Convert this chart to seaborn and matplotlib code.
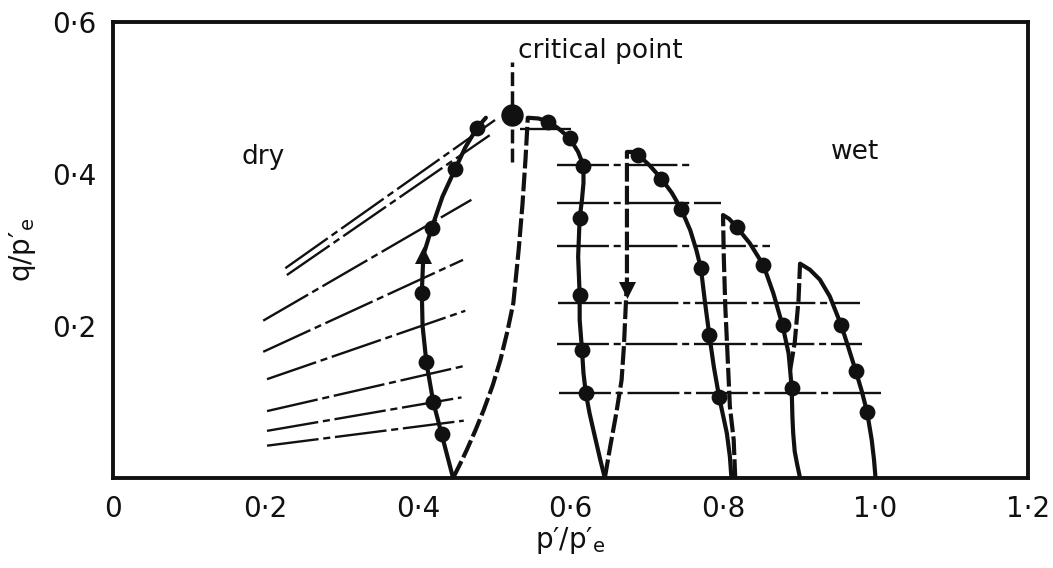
import matplotlib
matplotlib.use("Agg")
import matplotlib.pyplot as plt
from matplotlib.ticker import FixedLocator
import numpy as np
import pandas as pd
import seaborn as sns

sns.set_theme(style="white")
plt.rcParams['font.family'] = ['DejaVu Sans']
plt.rcParams['mathtext.fontset'] = 'dejavusans'
plt.rcParams['mathtext.default'] = 'regular'

# ---------------- data (p'/p'e , q/p'e) ----------------
# drained path on the dry side (solid, upward)
dry_x = [0.446, 0.431, 0.420, 0.411, 0.406, 0.405, 0.407, 0.418, 0.432, 0.4485, 0.462, 0.477, 0.489]
dry_y = [0.000, 0.0575, 0.100, 0.152, 0.200, 0.244, 0.293, 0.329, 0.370, 0.406, 0.435, 0.460, 0.474]
dry_dots_x = [0.431, 0.420, 0.411, 0.405, 0.418, 0.4485, 0.477]
dry_dots_y = [0.0575, 0.100, 0.152, 0.244, 0.329, 0.406, 0.460]

# dashed loading paths (wet side)
dashA_x = [0.446, 0.455, 0.464, 0.475, 0.486, 0.498, 0.508, 0.517, 0.525, 0.532, 0.537, 0.541, 0.544]
dashA_y = [0.000, 0.018, 0.037, 0.062, 0.089, 0.122, 0.155, 0.192, 0.230, 0.300, 0.360, 0.420, 0.474]
dashC_x = [0.645, 0.652, 0.660, 0.667, 0.670, 0.672, 0.674, 0.674, 0.674]
dashC_y = [0.000, 0.041, 0.085, 0.129, 0.173, 0.217, 0.260, 0.350, 0.429]
dashE_x = [0.816, 0.814, 0.809, 0.806, 0.803, 0.801, 0.800]
dashE_y = [0.000, 0.050, 0.094, 0.160, 0.225, 0.291, 0.346]
dashG_x = [0.888, 0.894, 0.899, 0.901]
dashG_y = [0.142, 0.178, 0.234, 0.282]

# solid unloading paths (wet side)
solB_x = [0.544, 0.558, 0.571, 0.584, 0.599, 0.610, 0.617, 0.617, 0.615, 0.612, 0.610, 0.612,
          0.612, 0.615, 0.617, 0.620, 0.625, 0.630, 0.639, 0.645]
solB_y = [0.474, 0.473, 0.469, 0.460, 0.447, 0.429, 0.411, 0.388, 0.366, 0.342, 0.291, 0.241,
          0.208, 0.169, 0.138, 0.112, 0.085, 0.063, 0.024, 0.000]
solB_dots_x = [0.571, 0.599, 0.617, 0.612, 0.612, 0.615, 0.620]
solB_dots_y = [0.469, 0.447, 0.411, 0.342, 0.241, 0.169, 0.112]

solD_x = [0.674, 0.681, 0.689, 0.704, 0.719, 0.733, 0.745, 0.757, 0.765, 0.771, 0.776, 0.782,
          0.788, 0.795, 0.805, 0.809, 0.811]
solD_y = [0.429, 0.429, 0.425, 0.411, 0.394, 0.375, 0.354, 0.326, 0.300, 0.276, 0.234, 0.188,
          0.146, 0.106, 0.059, 0.028, 0.000]
solD_dots_x = [0.689, 0.719, 0.745, 0.771, 0.782, 0.795]
solD_dots_y = [0.425, 0.394, 0.354, 0.276, 0.188, 0.106]

solF_x = [0.800, 0.808, 0.818, 0.835, 0.853, 0.866, 0.878, 0.886, 0.888, 0.890, 0.891, 0.892,
          0.894, 0.897, 0.901]
solF_y = [0.346, 0.341, 0.330, 0.309, 0.280, 0.243, 0.201, 0.164, 0.142, 0.119, 0.080, 0.059,
          0.035, 0.019, 0.000]
solF_dots_x = [0.818, 0.853, 0.878, 0.890]
solF_dots_y = [0.330, 0.280, 0.201, 0.119]

solH_x = [0.901, 0.914, 0.927, 0.940, 0.955, 0.964, 0.974, 0.982, 0.989, 0.995, 0.998, 1.000]
solH_y = [0.282, 0.274, 0.261, 0.239, 0.201, 0.173, 0.141, 0.114, 0.0864, 0.050, 0.024, 0.000]
solH_dots_x = [0.955, 0.974, 0.989]
solH_dots_y = [0.201, 0.141, 0.0864]

# critical point
crit_x = [0.523]
crit_y = [0.478]
crit_line_y = [0.416, 0.547]

# arrows on paths
arrow_up = (0.407, 0.293)
arrow_down = (0.674, 0.247)

# inclined stress paths, dry side: (x0, y0, x1, y1)
dry_paths_x0 = [0.226, 0.228, 0.197, 0.197, 0.202, 0.202, 0.202, 0.202]
dry_paths_y0 = [0.276, 0.267, 0.207, 0.166, 0.130, 0.088, 0.062, 0.0425]
dry_paths_x1 = [0.501, 0.494, 0.470, 0.459, 0.462, 0.459, 0.457, 0.460]
dry_paths_y1 = [0.471, 0.451, 0.366, 0.287, 0.220, 0.147, 0.106, 0.0754]

# horizontal stress paths, wet side
wet_paths_y = [0.459, 0.412, 0.362, 0.305, 0.230, 0.176, 0.112]
wet_paths_x0 = [0.534, 0.582, 0.582, 0.582, 0.584, 0.582, 0.585]
wet_paths_x1 = [0.600, 0.761, 0.798, 0.862, 0.980, 0.982, 1.007]

xtick_vals = [0.0, 0.2, 0.4, 0.6, 0.8, 1.0, 1.2]
xtick_labels = ["0", "0·2", "0·4", "0·6", "0·8", "1·0", "1·2"]
ytick_vals = [0.2, 0.4, 0.6]
ytick_labels = ["0·2", "0·4", "0·6"]

# ---------------- figure ----------------
fig = plt.figure(figsize=(10.53, 5.68), dpi=100)
ax = fig.add_axes([0.1073, 0.1585, 0.869, 0.8028])

BLACK = "#111111"
thin_style = (0, (22, 2, 3, 2))
dash_style = (0, (4.5, 1.0))


def line(x, y, lw, ls):
    sns.lineplot(x=x, y=y, sort=False, estimator=None, ax=ax, color=BLACK,
                 lw=lw, linestyle=ls, legend=False, solid_joinstyle="round")


# thin stress paths
for x0, y0, x1, y1 in zip(dry_paths_x0, dry_paths_y0, dry_paths_x1, dry_paths_y1):
    line([x0, x1], [y0, y1], 1.7, thin_style)
for yv, x0, x1 in zip(wet_paths_y, wet_paths_x0, wet_paths_x1):
    line([x0, x1], [yv, yv], 1.7, thin_style)

# thick paths
line(dry_x, dry_y, 3.0, "-")
for xs, ys in [(dashA_x, dashA_y), (dashC_x, dashC_y), (dashE_x, dashE_y), (dashG_x, dashG_y)]:
    line(xs, ys, 3.0, dash_style)
for xs, ys in [(solB_x, solB_y), (solD_x, solD_y), (solF_x, solF_y), (solH_x, solH_y)]:
    line(xs, ys, 3.0, "-")

# critical point vertical dashed line
line([crit_x[0], crit_x[0]], crit_line_y, 2.5, (0, (4, 1.5)))

# dots
all_dx = dry_dots_x + solB_dots_x + solD_dots_x + solF_dots_x + solH_dots_x
all_dy = dry_dots_y + solB_dots_y + solD_dots_y + solF_dots_y + solH_dots_y
sns.scatterplot(x=all_dx, y=all_dy, ax=ax, color=BLACK, s=130, edgecolor=BLACK,
                linewidth=0, zorder=5, legend=False)
sns.scatterplot(x=crit_x, y=crit_y, ax=ax, color=BLACK, s=260, linewidth=0,
                zorder=5, legend=False)
sns.scatterplot(x=[arrow_up[0]], y=[arrow_up[1]], ax=ax, color=BLACK, marker="^",
                s=150, linewidth=0, zorder=5, legend=False)
sns.scatterplot(x=[arrow_down[0]], y=[arrow_down[1]], ax=ax, color=BLACK, marker="v",
                s=150, linewidth=0, zorder=5, legend=False)

# texts
ax.text(0.197, 0.422, "dry", ha="center", va="center", fontsize=19, color=BLACK)
ax.text(0.973, 0.429, "wet", ha="center", va="center", fontsize=19, color=BLACK)
ax.text(0.531, 0.562, "critical point", ha="left", va="center", fontsize=19, color=BLACK)

# axes
ax.set_xlim(0, 1.2)
ax.set_ylim(0, 0.6)
ax.set_xticks(xtick_vals)
ax.set_xticklabels(xtick_labels)
ax.set_yticks(ytick_vals)
ax.set_yticklabels(ytick_labels)
ax.tick_params(axis="both", which="major", length=0, labelsize=20, pad=12, colors=BLACK)
ax.xaxis.set_minor_locator(FixedLocator([0.2, 0.4, 0.6, 0.8]))
ax.yaxis.set_minor_locator(FixedLocator([0.2, 0.4]))
ax.tick_params(axis="both", which="minor", direction="in", length=14, width=2,
               color=BLACK, bottom=True, left=True)
for sp in ax.spines.values():
    sp.set_visible(True)
    sp.set_linewidth(2.8)
    sp.set_color(BLACK)

ax.set_xlabel("p′/p′$_e$", fontsize=20, labelpad=2, color=BLACK)
ax.set_ylabel("q/p′$_e$", fontsize=20, labelpad=10, color=BLACK)

fig.savefig("out.png", dpi=100)
